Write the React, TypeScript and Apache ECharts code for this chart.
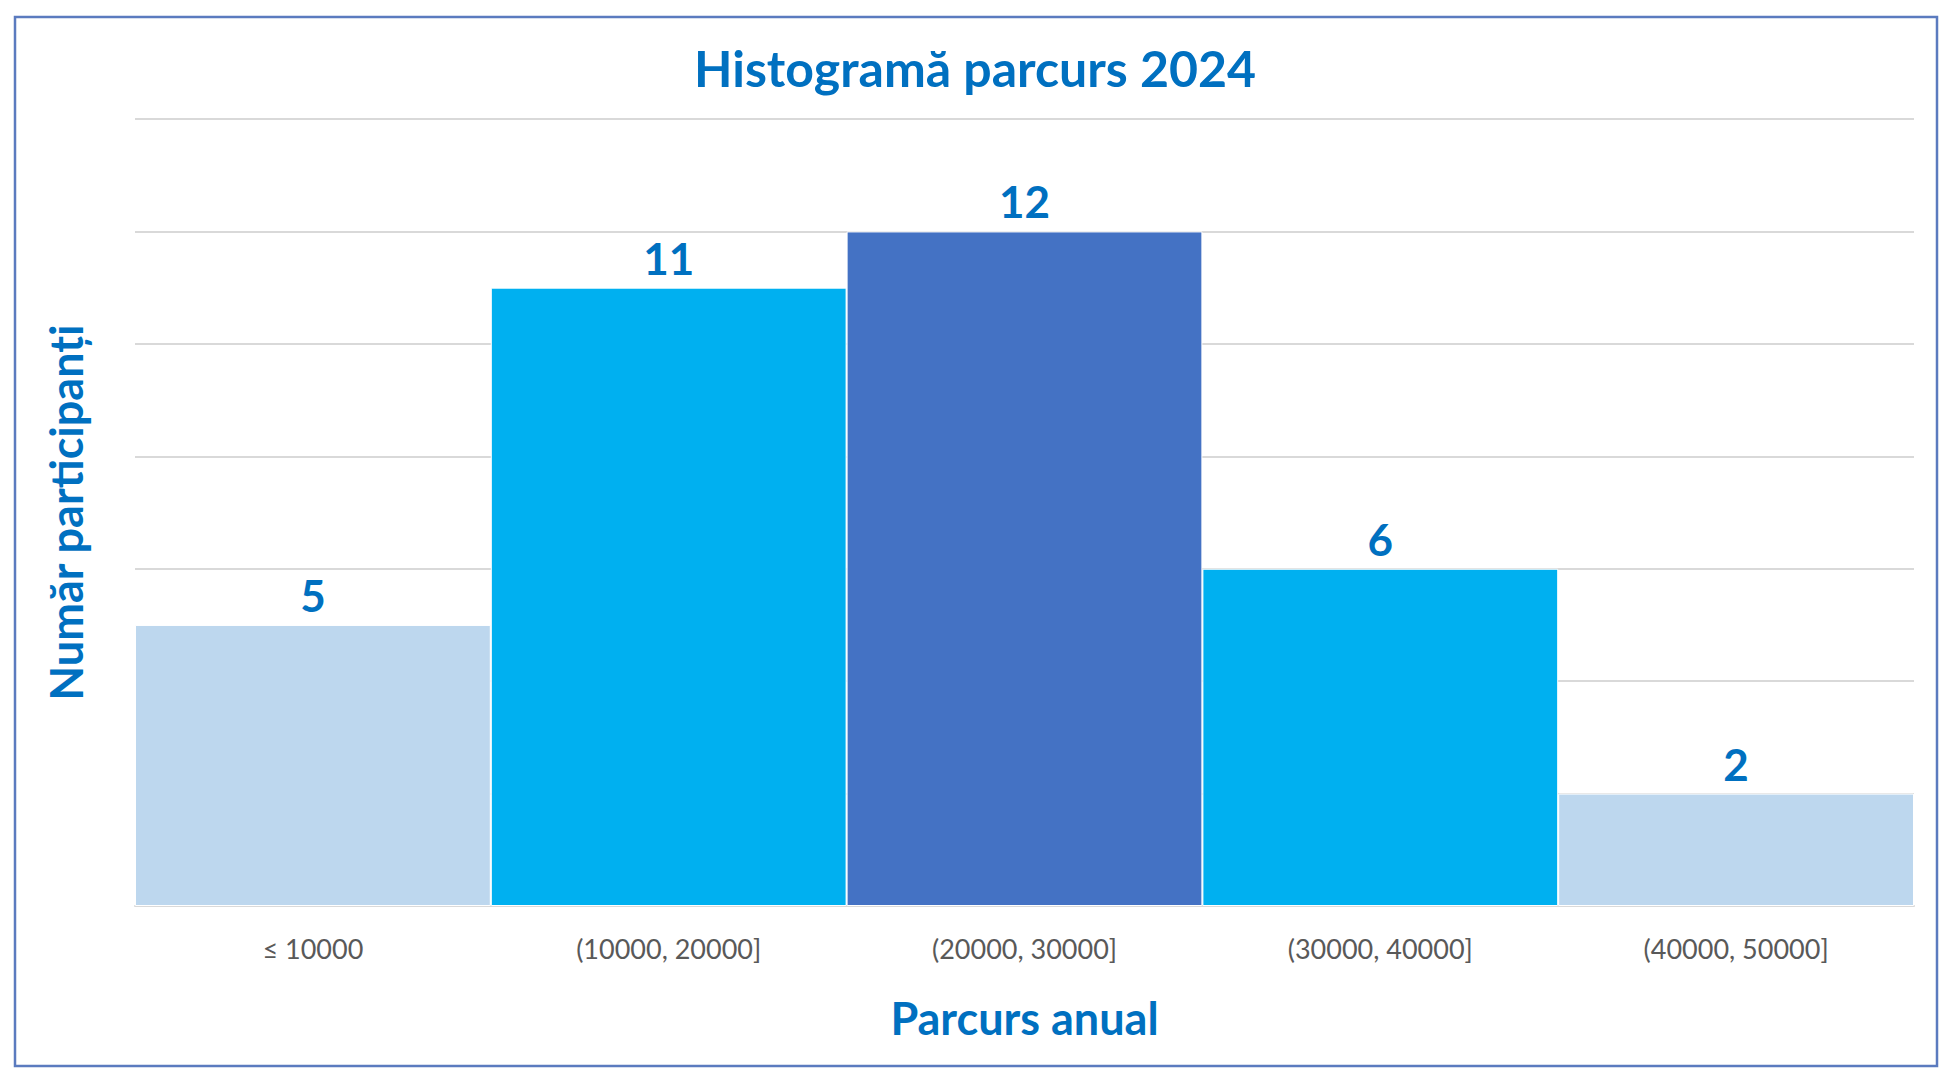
import React, { useEffect, useRef } from "react";
import * as echarts from "echarts";

const categories = ["≤ 10000", "(10000, 20000]", "(20000, 30000]", "(30000, 40000]", "(40000, 50000]"];
const values = [5, 11, 12, 6, 2];
const barColors = ["#BDD7EE", "#00B0F0", "#4472C4", "#00B0F0", "#BDD7EE"];
const titleText = "Histogramă parcurs 2024";
const xName = "Parcurs anual";
const yName = "Număr participanți";
const yMin = 0;
const yMax = 14;
const yStep = 2;

const FONT = "Lato, 'Open Sans', sans-serif";
const BLUE = "#0070C0";

export default function App() {
  const ref = useRef<HTMLDivElement>(null);
  useEffect(() => {
    if (!ref.current) return;
    const chart = echarts.init(ref.current, undefined, { renderer: "svg" });
    chart.setOption({
      animation: false,
      backgroundColor: "#ffffff",
      graphic: [
        {
          type: "rect",
          shape: { x: 15, y: 17, width: 1922, height: 1049 },
          style: { fill: "none", stroke: "#5B7BBF", lineWidth: 2.5 },
          z: 100,
        },
      ],
      title: {
        text: titleText,
        left: 970,
        textAlign: "center",
        top: 38,
        textStyle: { fontFamily: FONT, fontSize: 50, fontWeight: "bold", color: BLUE },
      },
      grid: { left: 135, right: 45, top: 119, bottom: 178 },
      xAxis: {
        type: "category",
        data: categories,
        name: xName,
        nameLocation: "middle",
        nameGap: 89,
        nameTextStyle: { fontFamily: FONT, fontSize: 45, fontWeight: "bold", color: BLUE },
        axisTick: { show: false },
        axisLine: { lineStyle: { color: "#D9D9D9", width: 2 } },
        axisLabel: { color: "#595959", fontSize: 27, fontFamily: FONT, margin: 29 },
      },
      yAxis: {
        type: "value",
        min: yMin,
        max: yMax,
        interval: yStep,
        name: yName,
        nameLocation: "middle",
        nameRotate: 90,
        nameGap: 47,
        nameTextStyle: { fontFamily: FONT, fontSize: 45, fontWeight: "bold", color: BLUE },
        axisLabel: { show: false },
        axisLine: { show: false },
        axisTick: { show: false },
        splitLine: { lineStyle: { color: "#D9D9D9", width: 2 } },
      },
      series: [
        {
          type: "bar",
          data: values.map((v, i) => ({ value: v, itemStyle: { color: barColors[i] } })),
          barCategoryGap: "0%",
          itemStyle: { borderColor: "#ffffff", borderWidth: 1 },
          label: {
            show: true,
            position: "top",
            distance: 8,
            fontFamily: FONT,
            fontSize: 44,
            fontWeight: "bold",
            color: BLUE,
          },
        },
      ],
    });
    return () => chart.dispose();
  }, []);
  return (
    <div
      ref={ref}
      style={{ position: "fixed", left: 0, top: 0, width: 1959, height: 1084 }}
    />
  );
}
